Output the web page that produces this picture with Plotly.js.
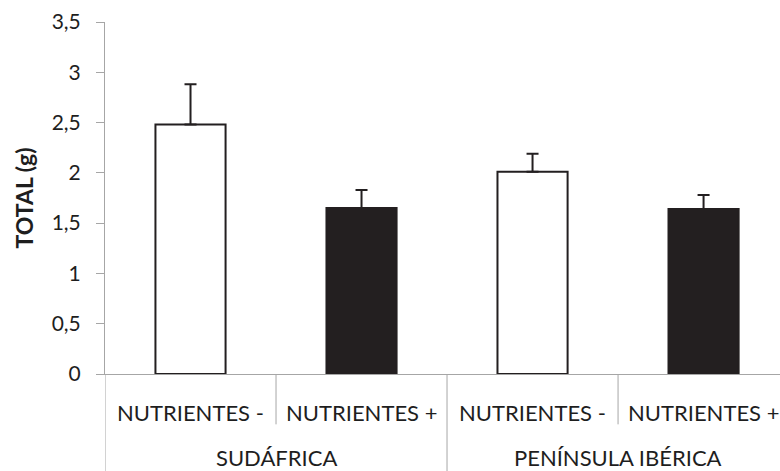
<!DOCTYPE html>
<html><head><meta charset="utf-8">
<script src="https://cdn.plot.ly/plotly-3.0.1.min.js"></script>
<style>body{margin:0;background:#fff}#c{width:780px;height:471px}</style>
</head><body><div id="c"></div>
<script>
const regions = ["SUDÁFRICA", "SUDÁFRICA", "PENÍNSULA IBÉRICA", "PENÍNSULA IBÉRICA"];
const treatments = ["NUTRIENTES -", "NUTRIENTES +", "NUTRIENTES -", "NUTRIENTES +"];
const totals = [2.48, 1.65, 2.01, 1.64];
const errors = [0.40, 0.18, 0.18, 0.14];
const fills = ["#ffffff", "#231f20", "#ffffff", "#231f20"];
const yTickVals = [0, 0.5, 1, 1.5, 2, 2.5, 3, 3.5];
const yTickText = ["0", "0,5", "1", "1,5", "2", "2,5", "3", "3,5"];

const font = "Lato, sans-serif";
const txt = "#1e1e1e";
const grey = "#a6a6a6";

const trace = {
  type: "bar",
  x: [regions, treatments],
  y: totals,
  marker: {color: fills, line: {color: "#231f20", width: 2}},
  error_y: {type: "data", array: errors, arrayminus: [0,0,0,0], symmetric: false, visible: true,
            color: "#231f20", thickness: 2, width: 6},
  hoverinfo: "none"
};

const shapes = [];
const annotations = [];
treatments.forEach((t, i) => {
  annotations.push({xref: "x", yref: "paper", x: i, y: -0.11, text: t, showarrow: false,
    yanchor: "middle", xanchor: "center", font: {family: font, size: 22, color: txt}});
});
[0.5, 2.5].forEach(v => shapes.push({type: "line", xref: "x", yref: "paper", x0: v, x1: v, y0: 0, y1: -0.143,
  line: {color: grey, width: 1}}));
const groups = [...new Set(regions)];
groups.forEach(g => {
  const idx = regions.map((r, i) => r === g ? i : -1).filter(i => i >= 0);
  const c = (idx[0] + idx[idx.length - 1]) / 2;
  annotations.push({xref: "x", yref: "paper", x: c, y: -0.238, text: g, showarrow: false,
    yanchor: "middle", xanchor: "center", font: {family: font, size: 22, color: txt}});
  shapes.push({type: "line", xref: "x", yref: "paper", x0: idx[0] - 0.5, x1: idx[0] - 0.5, y0: 0, y1: -0.3,
    line: {color: grey, width: 1}});
});

const layout = {
  width: 780, height: 471,
  margin: {l: 105, r: 0, t: 22, b: 97},
  paper_bgcolor: "#fff", plot_bgcolor: "#fff",
  showlegend: false,
  bargap: 0.59,
  font: {family: font, size: 21, color: txt},
  xaxis: {
    type: "multicategory",
    range: [-0.5, 3.447],
    showline: true, linecolor: grey, linewidth: 1,
    showticklabels: false, showdividers: false,
    ticks: "", showgrid: false
  },
  yaxis: {
    range: [0, 3.5],
    tickvals: yTickVals, ticktext: yTickText,
    ticks: "outside", ticklen: 8, tickcolor: grey, tickwidth: 1,
    ticklabelstandoff: 11,
    showline: true, linecolor: grey, linewidth: 1,
    showgrid: false, zeroline: false,
    tickfont: {family: font, size: 21, color: txt},
    title: {text: "TOTAL (g)", font: {family: font, size: 23, color: txt, weight: "bold"}, standoff: 11}
  },
  shapes: shapes,
  annotations: annotations
};
Plotly.newPlot("c", [trace], layout, {displayModeBar: false, staticPlot: true});
</script></body></html>
